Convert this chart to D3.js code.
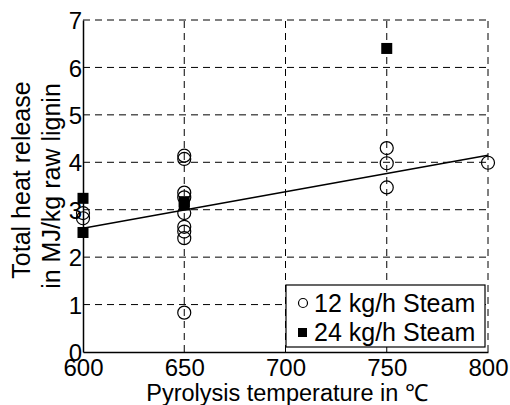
<!DOCTYPE html>
<html lang="en">
<head>
  <meta charset="UTF-8">
  <title>Total heat release vs pyrolysis temperature</title>
  <script src="https://d3js.org/d3.v7.min.js"></script>
  <style>
    body { margin: 0; background: #fff; }
    text { font-family: "Liberation Sans", Arial, sans-serif; fill: #000; }
  </style>
</head>
<body>
  <div id="chart"></div>
  <script>
    // data
    const xTicks = [600, 650, 700, 750, 800];
    const yTicks = [0, 1, 2, 3, 4, 5, 6, 7];
    const steam12 = [
      [600, 2.93], [600, 2.82],
      [650, 4.14], [650, 4.07], [650, 3.36], [650, 3.26], [650, 2.93],
      [650, 2.64], [650, 2.54], [650, 2.40], [650, 0.83],
      [750, 4.30], [750, 3.98], [750, 3.47],
      [800, 3.99]
    ];
    const steam24 = [
      [600, 3.24], [600, 2.52],
      [650, 3.17], [650, 3.10],
      [750, 6.40]
    ];
    const fitLine = [[600, 2.61], [800, 4.15]];

    const width = 510, height = 405;
    const margin = {left: 83, right: 22, top: 20, bottom: 53};

    const svg = d3.select("#chart").append("svg")
      .attr("width", width)
      .attr("height", height);

    const x = d3.scaleLinear().domain([600, 800]).range([margin.left, width - margin.right]);
    const y = d3.scaleLinear().domain([0, 7]).range([height - margin.bottom, margin.top]);

    // dashed grid
    const grid = svg.append("g")
      .attr("stroke", "#000")
      .attr("stroke-width", 1)
      .attr("stroke-dasharray", "7,5");
    grid.selectAll(".gx").data(xTicks.slice(1)).join("line")
      .attr("x1", d => x(d)).attr("x2", d => x(d))
      .attr("y1", y(0)).attr("y2", y(7));
    grid.selectAll(".gy").data(yTicks.slice(1)).join("line")
      .attr("x1", x(600)).attr("x2", x(800))
      .attr("y1", d => y(d)).attr("y2", d => y(d));

    // axes
    const xAxis = svg.append("g")
      .attr("transform", `translate(0,${y(0)})`)
      .call(d3.axisBottom(x).tickValues(xTicks).tickSize(0).tickFormat(d3.format("d")));
    const yAxis = svg.append("g")
      .attr("transform", `translate(${x(600)},0)`)
      .call(d3.axisLeft(y).tickValues(yTicks).tickSize(0).tickPadding(1).tickFormat(d3.format("d")));
    [xAxis, yAxis].forEach(g => {
      g.select(".domain").attr("stroke", "#000").attr("stroke-width", 1.5);
      g.selectAll("text").style("font-size", "24px");
    });
    xAxis.selectAll("text").attr("y", 24).attr("dy", 0);
    yAxis.selectAll("text").attr("dy", "0.36em");

    // fit line
    svg.append("path")
      .datum(fitLine)
      .attr("d", d3.line().x(d => x(d[0])).y(d => y(d[1])))
      .attr("fill", "none")
      .attr("stroke", "#000")
      .attr("stroke-width", 1.5);

    // markers
    svg.append("g").selectAll("circle").data(steam12).join("circle")
      .attr("cx", d => x(d[0])).attr("cy", d => y(d[1]))
      .attr("r", 6.5)
      .attr("fill", "none").attr("stroke", "#000").attr("stroke-width", 1.2);
    const sq = 11;
    svg.append("g").selectAll("rect").data(steam24).join("rect")
      .attr("x", d => x(d[0]) - sq / 2).attr("y", d => y(d[1]) - sq / 2)
      .attr("width", sq).attr("height", sq)
      .attr("fill", "#000");

    // legend
    const lg = svg.append("g").attr("transform", "translate(286,285)");
    lg.append("rect").attr("width", 199).attr("height", 62)
      .attr("fill", "#fff").attr("stroke", "#000").attr("stroke-width", 1.2);
    lg.append("circle").attr("cx", 17).attr("cy", 18).attr("r", 4.5)
      .attr("fill", "none").attr("stroke", "#000").attr("stroke-width", 1.2);
    lg.append("rect").attr("x", 12).attr("y", 43).attr("width", 9).attr("height", 9).attr("fill", "#000");
    lg.append("text").attr("x", 28).attr("y", 27).style("font-size", "25px").text("12 kg/h Steam");
    lg.append("text").attr("x", 28).attr("y", 56).style("font-size", "25px").text("24 kg/h Steam");

    // axis titles
    svg.append("text")
      .attr("x", 287).attr("y", 401)
      .attr("text-anchor", "middle")
      .style("font-size", "23.5px")
      .text("Pyrolysis temperature in ℃");
    const yl = svg.append("text")
      .attr("transform", `translate(0,183) rotate(-90)`)
      .attr("text-anchor", "middle")
      .style("font-size", "25px");
    yl.append("tspan").attr("x", 3).attr("y", 30).text("Total heat release");
    yl.append("tspan").attr("x", -3).attr("y", 60).text("in MJ/kg raw lignin");
  </script>
</body>
</html>
